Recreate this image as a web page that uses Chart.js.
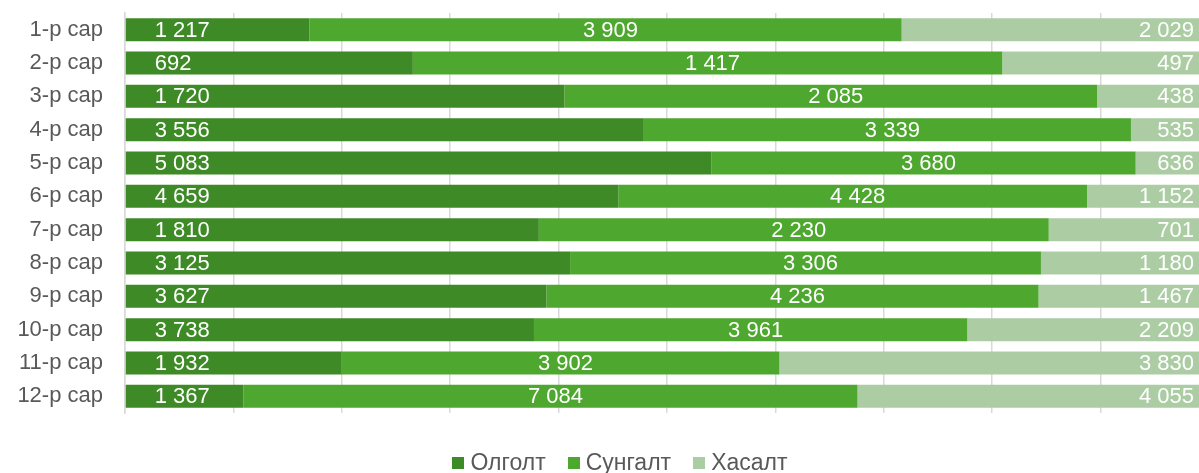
<!DOCTYPE html>
<html>
<head>
<meta charset="utf-8">
<script src="https://cdn.jsdelivr.net/npm/chart.js@4/dist/chart.umd.min.js"></script>
<style>
  body { margin: 0; overflow: hidden; background: #fff; font-family: Arial, "Liberation Sans", sans-serif; }
  #wrap { position: relative; width: 1209px; height: 473px; }
  #legend { position: absolute; left: 0; width: 1240px; top: 449px; text-align: center; font-size: 23px; color: #595959; white-space: nowrap; }
  #legend span.item { display: inline-block; margin: 0 11px; }
  #legend span.box { display: inline-block; width: 12px; height: 12px; margin-right: 6px; vertical-align: 1px; }
</style>
</head>
<body>
<div id="wrap">
  <canvas id="monthChart" width="1209" height="473"></canvas>
  <div id="legend"></div>
</div>
<script>
// Months and the three series
const months = ['1-р сар', '2-р сар', '3-р сар', '4-р сар', '5-р сар', '6-р сар',
                '7-р сар', '8-р сар', '9-р сар', '10-р сар', '11-р сар', '12-р сар'];
const olgolt  = [1217, 692, 1720, 3556, 5083, 4659, 1810, 3125, 3627, 3738, 1932, 1367];
const sungalt = [3909, 1417, 2085, 3339, 3680, 4428, 2230, 3306, 4236, 3961, 3902, 7084];
const khasalt = [2029, 497, 438, 535, 636, 1152, 701, 1180, 1467, 2209, 3830, 4055];
const seriesNames = ['Олголт', 'Сунгалт', 'Хасалт'];
const colors = ['#3e8a26', '#4ea72e', '#accda4'];

// 100% stacked: share of each month's total
const raw = [olgolt, sungalt, khasalt];
const totals = months.map((m, i) => olgolt[i] + sungalt[i] + khasalt[i]);
const pct = raw.map(arr => arr.map((v, i) => v / totals[i] * 100));

function fmt(v) {
    return String(v).replace(/\B(?=(\d{3})+(?!\d))/g, ' ');
}

// value labels inside the bars
const barLabels = {
    id: 'barLabels',
    afterDatasetsDraw(chart) {
        const ctx = chart.ctx;
        ctx.save();
        ctx.fillStyle = '#fff';
        ctx.font = '22px Arial, "Liberation Sans", sans-serif';
        ctx.textBaseline = 'middle';
        chart.data.datasets.forEach((ds, di) => {
            const meta = chart.getDatasetMeta(di);
            meta.data.forEach((bar, i) => {
                const p = bar.getProps(['x', 'y', 'base'], true);
                const txt = fmt(raw[di][i]);
                if (di === 0) {
                    ctx.textAlign = 'left';
                    ctx.fillText(txt, p.base + 29, p.y + 1);
                } else if (di === 1) {
                    ctx.textAlign = 'center';
                    ctx.fillText(txt, (p.base + p.x) / 2 + 5, p.y + 1);
                } else {
                    ctx.textAlign = 'right';
                    ctx.fillText(txt, p.x - 15, p.y + 1);
                }
            });
        });
        ctx.restore();
    }
};

const chart = new Chart(document.getElementById('monthChart').getContext('2d'), {
    type: 'bar',
    data: {
        labels: months,
        datasets: seriesNames.map((name, i) => ({
            label: name,
            data: pct[i],
            backgroundColor: colors[i],
            borderWidth: 0,
            categoryPercentage: 1,
            barPercentage: 0.69
        }))
    },
    options: {
        indexAxis: 'y',
        responsive: false,
        animation: false,
        layout: {
            padding: { top: 13, left: 0, right: 0, bottom: 60 }
        },
        plugins: {
            legend: { display: false },
            tooltip: { enabled: false }
        },
        scales: {
            x: {
                stacked: true,
                min: 0,
                max: 100,
                ticks: { display: false, stepSize: 10 },
                grid: { color: '#d9d9d9', lineWidth: 1.5, drawTicks: false },
                border: { display: false }
            },
            y: {
                stacked: true,
                afterFit(scale) {
                    scale.width = 125;
                    scale.paddingTop = 0;
                    scale.paddingBottom = 0;
                },
                ticks: {
                    color: '#595959',
                    padding: 22,
                    font: { family: 'Arial, "Liberation Sans", sans-serif', size: 22 }
                },
                grid: { display: false, drawTicks: false },
                border: { display: true, color: '#d9d9d9', width: 1.5 }
            }
        }
    },
    plugins: [barLabels]
});

// legend built from the chart's datasets
const legendEl = document.getElementById('legend');
chart.data.datasets.forEach(ds => {
    const item = document.createElement('span');
    item.className = 'item';
    const box = document.createElement('span');
    box.className = 'box';
    box.style.background = ds.backgroundColor;
    item.appendChild(box);
    item.appendChild(document.createTextNode(ds.label));
    legendEl.appendChild(item);
});
</script>
</body>
</html>
